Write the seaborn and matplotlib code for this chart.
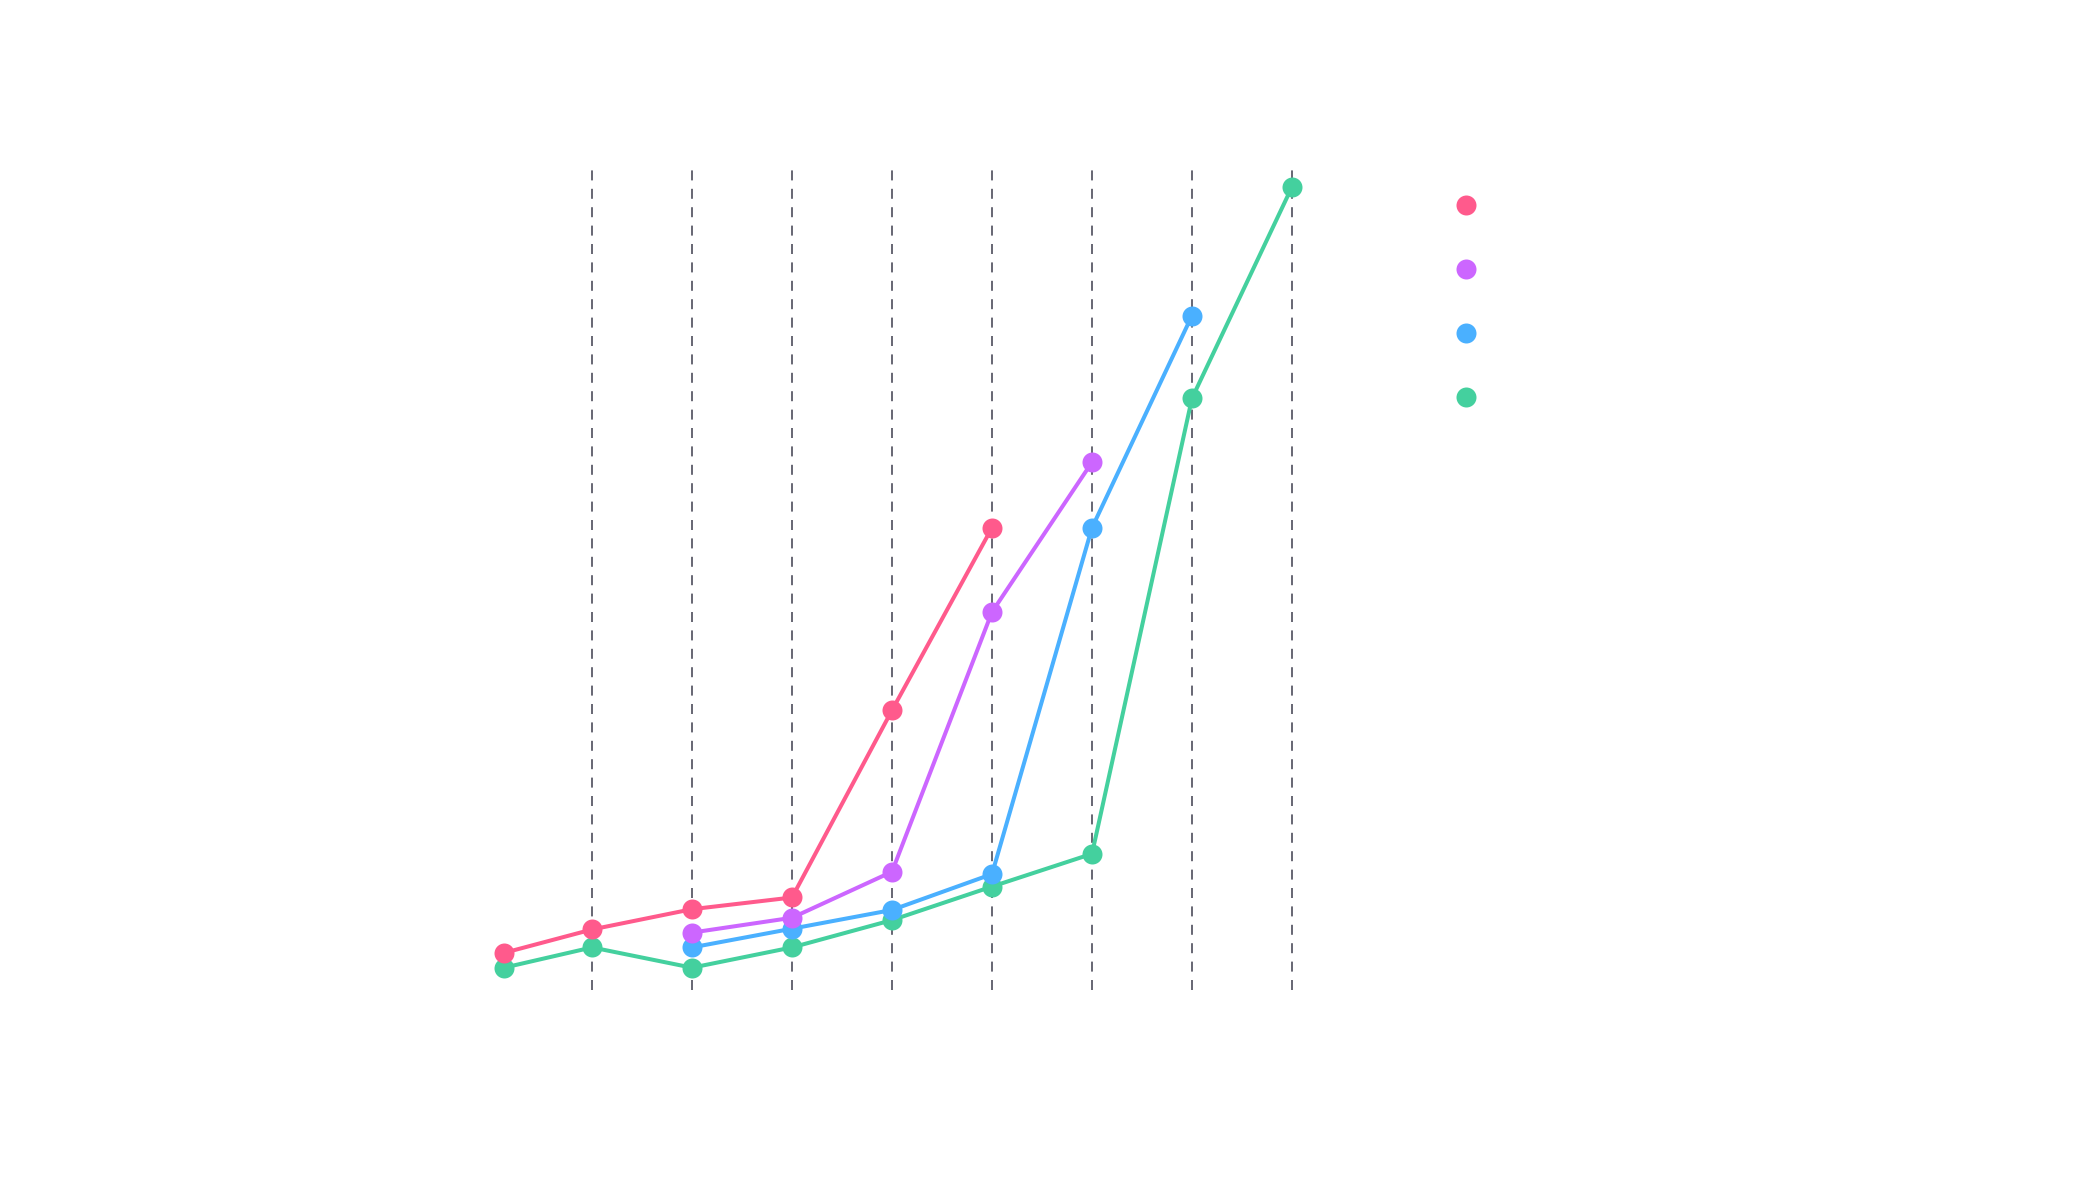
import matplotlib
matplotlib.use("Agg")
import matplotlib.pyplot as plt
from matplotlib.lines import Line2D
import seaborn as sns
import pandas as pd

# ---- data ----
series_names = ["S1", "S2", "S3", "S4"]
series_colors = ["#FF5A8C", "#CC66FF", "#4AB0FF", "#44D09E"]

x_s1 = [0.12, 1, 2, 3, 4, 5]
y_s1 = [3.9, 6.9, 9.5, 11.0, 35.0, 58.4]

x_s2 = [2, 3, 4, 5, 6]
y_s2 = [6.5, 8.4, 14.3, 47.6, 66.8]

x_s3 = [2, 3, 4, 5, 6, 7]
y_s3 = [4.6, 7.0, 9.4, 14.0, 58.4, 85.6]

x_s4 = [0.12, 1, 2, 3, 4, 5, 6, 7, 8]
y_s4 = [2.0, 4.6, 2.0, 4.6, 8.1, 12.4, 16.6, 75.0, 102.1]

grid_x = [1, 2, 3, 4, 5, 6, 7, 8]

# ---- build a long table ----
rows = []
for name, xs, ys in zip(series_names, [x_s1, x_s2, x_s3, x_s4], [y_s1, y_s2, y_s3, y_s4]):
    for xv, yv in zip(xs, ys):
        rows.append({"x": xv, "y": yv, "series": name})
df = pd.DataFrame(rows)

sns.set_style("white")
plt.rcParams["font.family"] = ["DejaVu Sans"]

W, H = 2080, 1190
fig = plt.figure(figsize=(W / 100, H / 100), dpi=100)

# axes placed in pixel terms
left_px, right_px = 492, 1322          # x = 0 .. 8.3
top_px, bottom_px = 167, 990
ax = fig.add_axes([left_px / W, 1 - bottom_px / H,
                   (right_px - left_px) / W, (bottom_px - top_px) / H])

palette = dict(zip(series_names, series_colors))
draw_order = series_names[::-1]  # last series underneath, first on top

sns.lineplot(data=df, x="x", y="y", hue="series", hue_order=draw_order,
             palette=palette, marker="o", markersize=14.4, markeredgewidth=0,
             linewidth=2.9, sort=False, estimator=None, legend=False, ax=ax)

ax.set_xlim(0, 8.3)
ax.set_ylim(-0.86, 104.65)
ax.set_xticks(grid_x)
ax.set_yticks([])
ax.tick_params(axis="both", length=0, labelbottom=False, labelleft=False)
ax.grid(axis="x", color="#6a6a76", linewidth=1.44, linestyle=(0, (5, 4.2)))
ax.grid(axis="y", visible=False)
ax.set_axisbelow(True)
for sp in ax.spines.values():
    sp.set_visible(False)
ax.set_xlabel("")
ax.set_ylabel("")

handles = [Line2D([], [], linestyle="none", marker="o", markersize=14.4,
                  markeredgewidth=0, color=c) for c in series_colors]
fig.legend(handles, [""] * len(handles), loc="center",
           bbox_to_anchor=(1466 / W, 1 - 302 / H),
           frameon=False, handletextpad=0, handlelength=1.0,
           borderpad=0, labelspacing=3.6, fontsize=10)

fig.savefig("out.png", dpi=100, facecolor="white")
